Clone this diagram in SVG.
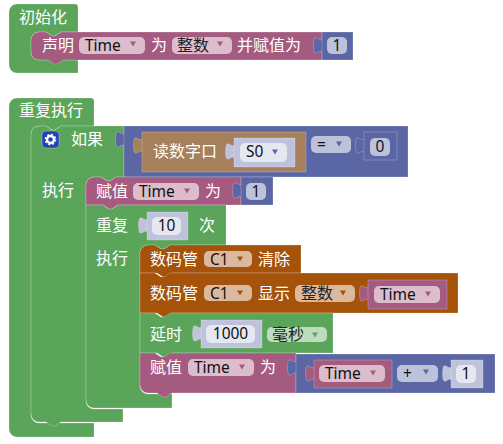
<svg xmlns="http://www.w3.org/2000/svg" width="503" height="444" viewBox="0 0 503 444">
<style>
text{font-family:"Noto Sans CJK SC","Noto Sans",sans-serif;font-size:16px;fill:#fff}
.l{font-family:"Noto Sans","Noto Sans CJK SC",sans-serif;font-size:15.500px;fill:#111}
.m{text-anchor:middle}
.b{stroke:#fff;stroke-opacity:.22;stroke-width:1}
.green{fill:#5ba55b}.pink{fill:#a55b80}.blue{fill:#5b67a5}.tan{fill:#a5805b}.orange{fill:#a5520a}.shadow{fill:#bec2db}
.f{fill:#fff;fill-opacity:.6}
</style>
<defs>
<path id="tab" d="M1,0.500C-2,4 -4,-1 -7,0C-9,1 -9,14 -7,15C-4,16 -2,11 1,14.500Z"/>
<path id="tri" d="M-3,-2.500H3L0,2.500Z"/>
</defs>

<g id="init">
<path class="green b" d="M9,12a8,8 0 0 1 8,-8H75a3,3 0 0 1 3,3V32H61l-6,4h-3l-6,-4H39a8,8 0 0 0 -8,8V52a8,8 0 0 0 8,8H78V73H17a8,8 0 0 1 -8,-8Z"/>
<text x="19" y="23">初始化</text>
</g>
<g id="declare">
<path class="pink b" d="M39,32H46l6,4h3l6,-4H322V60H63l-6,4h-3l-6,-4H39a8,8 0 0 1 -8,-8V40a8,8 0 0 1 8,-8Z"/>
<text x="42" y="51">声明</text>
<rect class="f" x="79" y="37" width="66" height="17" rx="5"/>
<text class="l" x="85" y="51">Time</text>
<use href="#tri" x="133" y="44" fill="#a55b80"/>
<text x="151" y="51">为</text>
<rect class="f" x="172" y="37" width="60" height="17" rx="5"/>
<text x="177" y="51" style="fill:#222">整数</text>
<use href="#tri" x="220" y="44" fill="#a55b80"/>
<text x="237" y="51">并赋值为</text>
</g>
<g id="init-value">
<use href="#tab" x="322" y="38" class="blue b"/>
<path class="blue b" d="M322,32H353V60H322Z"/>
<rect class="f" x="327" y="37" width="20" height="17" rx="5"/>
<text class="l m" x="337" y="51">1</text>
</g>

<g id="forever">
<path class="green b" d="M9,106a8,8 0 0 1 8,-8H91a3,3 0 0 1 3,3V126H61l-6,4h-3l-6,-4H39a8,8 0 0 0 -8,8V415a8,8 0 0 0 8,8H94V437H17a8,8 0 0 1 -8,-8Z"/>
<text x="19" y="116">重复执行</text>
</g>
<g id="if">
<path class="green b" d="M39,126H46l6,4h3l6,-4H124V177H116l-6,4h-3l-6,-4H94a8,8 0 0 0 -8,8V401a8,8 0 0 0 8,8H123V422H61l-6,4h-3l-6,-4H39a8,8 0 0 1 -8,-8V134a8,8 0 0 1 8,-8Z"/>
<rect x="42" y="131" width="17" height="17" rx="4" fill="#2542b5" stroke="#fff" stroke-opacity=".3"/>
<circle cx="50.500" cy="139.500" r="3.500" fill="none" stroke="#fff" stroke-width="2.400"/>
<circle cx="50.500" cy="139.500" r="5" fill="none" stroke="#fff" stroke-width="1.600" stroke-dasharray="2 1.930"/>
<text x="71" y="145">如果</text>
<text x="42" y="196">执行</text>
</g>
<g id="compare">
<use href="#tab" x="124" y="132" class="blue b"/>
<path class="blue b" d="M124,126H408V177H124Z"/>
<rect class="f" x="311" y="136" width="40" height="17" rx="5"/>
<text class="l" x="317" y="150">=</text>
<use href="#tri" x="339" y="144" fill="#5b67a5"/>
<use href="#tab" x="364" y="138" class="blue b"/>
<path class="blue b" d="M364,132H397V160H364Z"/>
<rect class="f" x="370" y="138" width="20" height="18" rx="5"/>
<text class="l m" x="380" y="152">0</text>
</g>
<g id="read-port">
<use href="#tab" x="142" y="138" class="tan b"/>
<path class="tan b" d="M142,132H306V172H142Z"/>
<text x="153" y="157">读数字口</text>
<use href="#tab" x="234" y="144" class="shadow b"/>
<path class="shadow b" d="M234,138H295V167H234Z"/>
<rect class="f" x="240" y="143" width="47" height="19" rx="5"/>
<text class="l" x="246" y="157">S0</text>
<use href="#tri" x="275" y="152" fill="#5b67a5"/>
</g>
<g id="assign-1">
<path class="pink b" d="M94,177H101l6,4h3l6,-4H241V205H118l-6,4h-3l-6,-4H86V185a8,8 0 0 1 8,-8Z"/>
<text x="96" y="197">赋值</text>
<rect class="f" x="133" y="183" width="66" height="17" rx="5"/>
<text class="l" x="139" y="197">Time</text>
<use href="#tri" x="187" y="191" fill="#a55b80"/>
<text x="205" y="197">为</text>
<use href="#tab" x="241" y="183" class="blue b"/>
<path class="blue b" d="M241,177H273V205H241Z"/>
<rect class="f" x="246" y="183" width="20" height="17" rx="5"/>
<text class="l m" x="256" y="197">1</text>
</g>
<g id="repeat">
<path class="green b" d="M86,205H103l6,4h3l6,-4H226V245H170l-6,4h-3l-6,-4H148a8,8 0 0 0 -8,8V386a8,8 0 0 0 8,8H172V408H94a8,8 0 0 1 -8,-8Z"/>
<text x="96" y="231">重复</text>
<use href="#tab" x="147" y="218" class="shadow b"/>
<path class="shadow b" d="M147,212H188V240H147Z"/>
<rect class="f" x="152" y="217" width="29" height="18" rx="5"/>
<text class="l m" x="166.500" y="231">10</text>
<text x="199" y="231">次</text>
<text x="96" y="264">执行</text>
</g>
<g id="display-clear">
<path class="orange b" d="M148,245H155l6,4h3l6,-4H301V273H172l-6,4h-3l-6,-4H140V253a8,8 0 0 1 8,-8Z"/>
<text x="150" y="265">数码管</text>
<rect class="f" x="204" y="251" width="48" height="16" rx="5"/>
<text class="l" x="210" y="265">C1</text>
<use href="#tri" x="240" y="259" fill="#a5520a"/>
<text x="258" y="265">清除</text>
</g>
<g id="display-show">
<path class="orange b" d="M140,273H155l6,4h3l6,-4H458V313H172l-6,4h-3l-6,-4H140Z"/>
<text x="150" y="299">数码管</text>
<rect class="f" x="204" y="285" width="48" height="16" rx="5"/>
<text class="l" x="210" y="299">C1</text>
<use href="#tri" x="240" y="293" fill="#a5520a"/>
<text x="258" y="299">显示</text>
<rect class="f" x="295" y="285" width="60" height="17" rx="5"/>
<text x="301" y="299" style="fill:#222">整数</text>
<use href="#tri" x="343" y="293" fill="#a5520a"/>
</g>
<g id="var-time-1">
<use href="#tab" x="368" y="286" class="pink b"/>
<path class="pink b" d="M368,280H447V309H368Z"/>
<rect class="f" x="374" y="286" width="66" height="17" rx="5"/>
<text class="l" x="380" y="300">Time</text>
<use href="#tri" x="428" y="294" fill="#a55b80"/>
</g>
<g id="delay">
<path class="green b" d="M140,313H155l6,4h3l6,-4H333V353H172l-6,4h-3l-6,-4H140Z"/>
<text x="150" y="340">延时</text>
<use href="#tab" x="201" y="326" class="shadow b"/>
<path class="shadow b" d="M201,320H262V348H201Z"/>
<rect class="f" x="206" y="325" width="49" height="18" rx="5"/>
<text class="l m" x="230.500" y="339">1000</text>
<rect class="f" x="267" y="327" width="60" height="15" rx="5"/>
<text x="272" y="340" style="fill:#222">毫秒</text>
<use href="#tri" x="315" y="335" fill="#5ba55b"/>
</g>
<g id="assign-2">
<path class="pink b" d="M140,353H155l6,4h3l6,-4H296V393H172l-6,4h-3l-6,-4H148a8,8 0 0 1 -8,-8Z"/>
<text x="150" y="373">赋值</text>
<rect class="f" x="188" y="359" width="66" height="17" rx="5"/>
<text class="l" x="194" y="373">Time</text>
<use href="#tri" x="242" y="367" fill="#a55b80"/>
<text x="260" y="373">为</text>
</g>
<g id="add">
<use href="#tab" x="296" y="360" class="blue b"/>
<path class="blue b" d="M296,354H495V393H296Z"/>
<use href="#tab" x="314" y="366" class="pink b"/>
<path class="pink b" d="M314,360H392V388H314Z"/>
<rect class="f" x="319" y="365" width="66" height="17" rx="5"/>
<text class="l" x="325" y="379">Time</text>
<use href="#tri" x="373" y="373" fill="#a55b80"/>
<rect class="f" x="397" y="365" width="41" height="17" rx="5"/>
<text class="l" x="403" y="379">+</text>
<use href="#tri" x="426" y="372" fill="#5b67a5"/>
<use href="#tab" x="451" y="366" class="shadow b"/>
<path class="shadow b" d="M451,360H483V388H451Z"/>
<rect class="f" x="456" y="365" width="20" height="18" rx="5"/>
<text class="l m" x="466" y="379">1</text>
</g>
</svg>
